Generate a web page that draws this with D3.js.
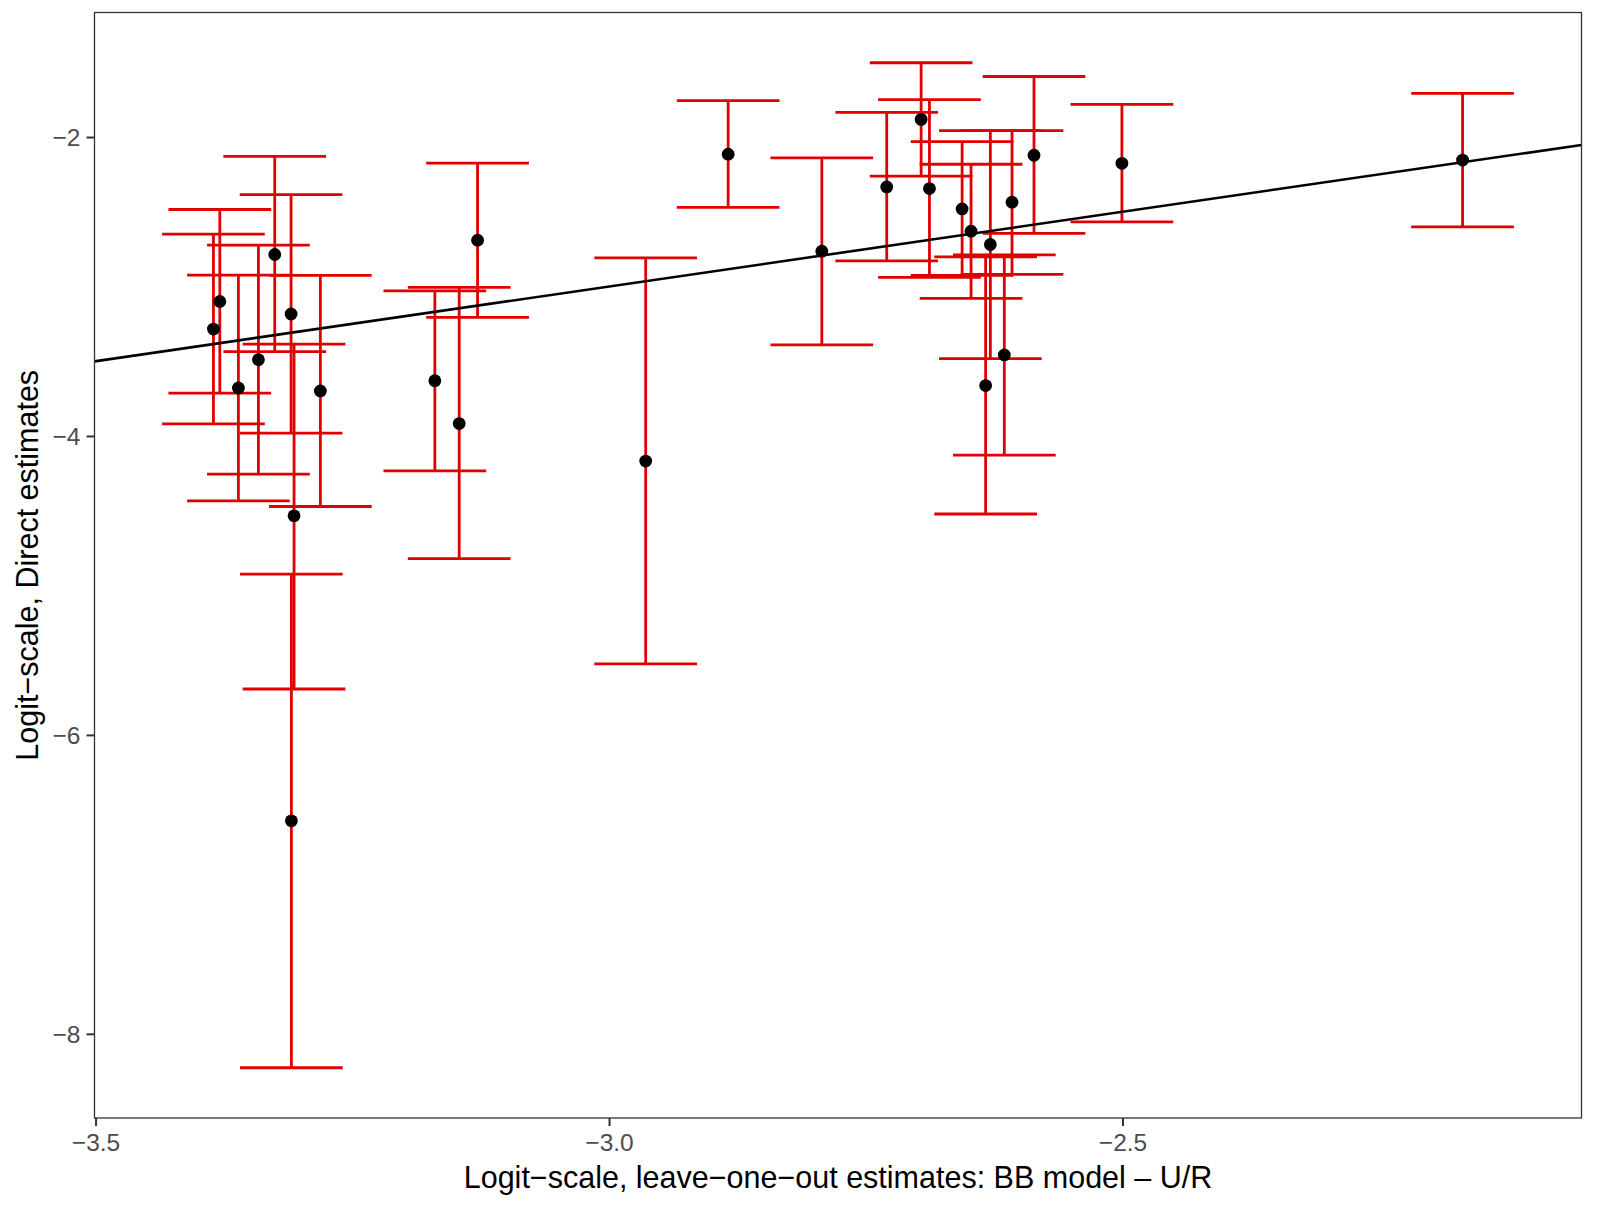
<!DOCTYPE html>
<html>
<head>
<meta charset="utf-8">
<script src="https://cdn.jsdelivr.net/npm/d3@7"></script>
<style>
  html, body { margin: 0; padding: 0; background: #fff; }
  svg { display: block; }
  text { font-family: "Liberation Sans", Arial, Helvetica, sans-serif; }
</style>
</head>
<body>
<svg id="chart" width="1597" height="1208"></svg>
<script>
// Leave-one-out (x) vs direct estimates (y), logit scale
const xEstimate = [-3.3255, -3.3096, -3.379, -3.3852, -3.3414, -3.3609, -3.2811, -3.3067, -3.3093,
  -3.128, -3.1696, -3.1459, -2.9643, -2.884, -2.7928,
  -2.6961, -2.688, -2.7296, -2.5862, -2.6287, -2.6076, -2.6562, -2.6475, -2.6333, -2.6151,
  -2.5006, -2.1689];
const yDirect = [-2.786, -3.184, -3.100, -3.285, -3.490, -3.679, -3.699, -4.534, -6.575,
  -2.690, -3.630, -3.917, -4.168, -2.115, -2.764,
  -1.882, -2.345, -2.334, -2.122, -2.719, -2.436, -2.481, -2.630, -3.663, -3.458,
  -2.176, -2.154];
const yLower = [-3.436, -3.981, -3.714, -3.919, -4.255, -4.434, -4.472, -5.693, -8.227,
  -3.206, -4.233, -4.821, -5.525, -2.470, -3.391,
  -2.261, -2.939, -2.828, -2.645, -3.483, -2.919, -2.926, -3.080, -4.522, -4.128,
  -2.568, -2.601];
const yUpper = [-2.129, -2.385, -2.485, -2.650, -2.723, -2.924, -2.926, -3.385, -4.924,
  -2.174, -3.029, -3.006, -2.808, -1.757, -2.140,
  -1.503, -1.750, -1.835, -1.595, -1.957, -1.957, -2.031, -2.182, -2.802, -2.788,
  -1.782, -1.708];
const xTicks = [-3.5, -3.0, -2.5];
const yTicks = [-8, -6, -4, -2];
const xTitle = "Logit\u2212scale, leave\u2212one\u2212out estimates: BB model \u2013 U/R";
const yTitle = "Logit\u2212scale, Direct estimates";
const capWidth = 0.1;

const rows = xEstimate.map((x, i) => ({ x, y: yDirect[i], lo: yLower[i], hi: yUpper[i] }));

const panel = { left: 94.5, right: 1581.5, top: 12.5, bottom: 1118 };
const svg = d3.select("#chart");

function expand(lo, hi) { const w = hi - lo; return [lo - 0.05 * w, hi + 0.05 * w]; }
const xDom = expand(d3.min(xEstimate) - capWidth / 2, d3.max(xEstimate) + capWidth / 2);
const yDom = expand(d3.min(yLower), d3.max(yUpper));

const x = d3.scaleLinear().domain(xDom).range([panel.left, panel.right]);
const y = d3.scaleLinear().domain(yDom).range([panel.bottom, panel.top]);

const red = "#e00000";

svg.append("defs").append("clipPath").attr("id", "clip")
  .append("rect").attr("x", panel.left).attr("y", panel.top)
  .attr("width", panel.right - panel.left).attr("height", panel.bottom - panel.top);

const g = svg.append("g").attr("clip-path", "url(#clip)");

// error bars
const eb = g.append("g").attr("stroke", red).attr("stroke-width", 2.8).attr("fill", "none");
eb.selectAll("line.v").data(rows).join("line").attr("class", "v")
  .attr("x1", d => x(d.x)).attr("x2", d => x(d.x))
  .attr("y1", d => y(d.lo)).attr("y2", d => y(d.hi));
eb.selectAll("line.top").data(rows).join("line").attr("class", "top")
  .attr("x1", d => x(d.x - capWidth / 2)).attr("x2", d => x(d.x + capWidth / 2))
  .attr("y1", d => y(d.hi)).attr("y2", d => y(d.hi));
eb.selectAll("line.bot").data(rows).join("line").attr("class", "bot")
  .attr("x1", d => x(d.x - capWidth / 2)).attr("x2", d => x(d.x + capWidth / 2))
  .attr("y1", d => y(d.lo)).attr("y2", d => y(d.lo));

// points
g.append("g").selectAll("circle").data(rows).join("circle")
  .attr("cx", d => x(d.x)).attr("cy", d => y(d.y)).attr("r", 6.4).attr("fill", "#000");

// identity line y = x
g.append("line")
  .attr("x1", x(xDom[0])).attr("y1", y(xDom[0]))
  .attr("x2", x(xDom[1])).attr("y2", y(xDom[1]))
  .attr("stroke", "#000").attr("stroke-width", 2.6);

// panel border
svg.append("rect")
  .attr("x", panel.left).attr("y", panel.top)
  .attr("width", panel.right - panel.left).attr("height", panel.bottom - panel.top)
  .attr("fill", "none").attr("stroke", "#333333").attr("stroke-width", 1.3);

// axes
const xAxis = d3.axisBottom(x).tickValues(xTicks).tickSize(8).tickPadding(8)
  .tickFormat(d => d3.format(".1f")(d).replace("-", "\u2212"));
const xa = svg.append("g").attr("transform", `translate(0,${panel.bottom})`).call(xAxis);
xa.select(".domain").remove();
xa.selectAll(".tick line").attr("stroke", "#333333").attr("stroke-width", 2);
xa.selectAll(".tick text").attr("fill", "#4d4d4d").attr("font-size", 24.5)
  .attr("font-family", "Liberation Sans, Arial, sans-serif").attr("dy", "0.71em");

const yAxis = d3.axisLeft(y).tickValues(yTicks).tickSize(8).tickPadding(6)
  .tickFormat(d => String(d).replace("-", "\u2212"));
const ya = svg.append("g").attr("transform", `translate(${panel.left},0)`).call(yAxis);
ya.select(".domain").remove();
ya.selectAll(".tick line").attr("stroke", "#333333").attr("stroke-width", 2);
ya.selectAll(".tick text").attr("fill", "#4d4d4d").attr("font-size", 24.5)
  .attr("font-family", "Liberation Sans, Arial, sans-serif").attr("dy", "0.35em");

// titles
svg.append("text")
  .attr("x", (panel.left + panel.right) / 2).attr("y", 1188)
  .attr("text-anchor", "middle").attr("font-size", 30.5).attr("fill", "#000")
  .text(xTitle);
svg.append("text")
  .attr("transform", `translate(38,${(panel.top + panel.bottom) / 2}) rotate(-90)`)
  .attr("text-anchor", "middle").attr("font-size", 30.5).attr("fill", "#000")
  .text(yTitle);
</script>
</body>
</html>
